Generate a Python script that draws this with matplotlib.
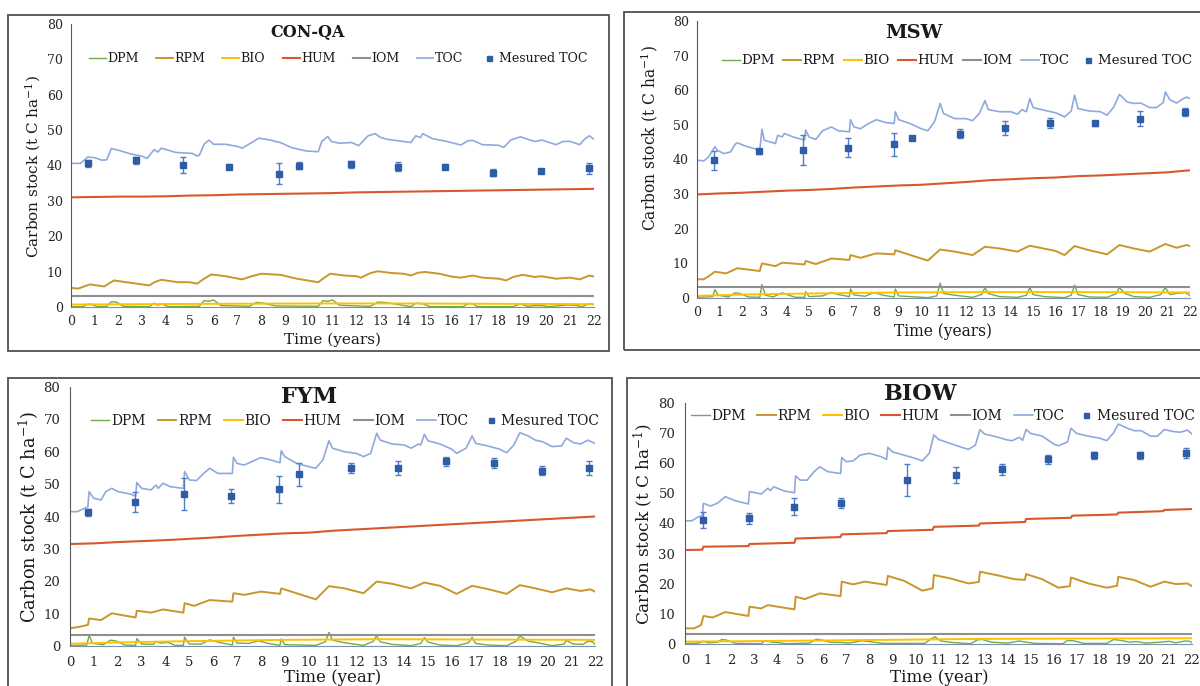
import matplotlib
matplotlib.use('Agg')
import matplotlib.pyplot as plt
from matplotlib.patches import Rectangle

W, H = 1200, 686

C_DPM = '#70ad47'
C_RPM = '#c9962c'
C_BIO = '#ffc000'
C_HUM = '#d9582b'
C_IOM = '#8f8f8f'
C_TOC = '#8eaadc'
C_MEAS = '#2f5ca6'
C_ERR = '#4f7cc4'

YEARS = list(range(23))
XTICKS = list(range(23))
YTICKS = list(range(0, 81, 10))
LABELS = ['DPM', 'RPM', 'BIO', 'HUM', 'IOM', 'TOC', 'Mesured TOC']

# ---------------- CON-QA ----------------
CONQA_TOC_T = [0, 0.4, 0.7, 1.0, 1.3, 1.5, 1.7, 2.0, 2.5, 3.0,
               3.2, 3.5, 3.65, 3.8, 4.4, 5.1, 5.3, 5.4, 5.6, 5.8,
               6.0, 6.5, 7.0, 7.2, 7.6, 7.9, 8.3, 8.8, 9.3, 9.9,
               10.4, 10.55, 10.8, 10.95, 11.3, 11.8, 12.1, 12.5, 12.8, 13.0,
               13.3, 14.3, 14.5, 14.7, 14.8, 15.2, 15.8, 16.4, 16.7, 16.9,
               17.3, 18.0, 18.2, 18.5, 18.9, 19.5, 19.8, 20.4, 20.7, 21.0,
               21.4, 21.6, 21.8, 22.0]
CONQA_TOC = [40.6, 40.6, 42.4, 42.2, 41.5, 41.6, 44.8, 44.3, 43.3, 42.6,
             42.0, 44.5, 43.8, 44.9, 43.7, 43.4, 42.7, 42.9, 46.0, 47.2,
             46.0, 46.0, 45.4, 44.9, 46.5, 47.7, 47.3, 46.5, 45.0, 44.1,
             43.9, 46.8, 48.2, 46.8, 46.3, 46.5, 45.6, 48.4, 49.0, 48.0,
             47.4, 46.5, 48.4, 47.9, 49.0, 47.6, 46.8, 45.8, 47.0, 47.1,
             45.9, 45.7, 45.1, 47.2, 48.1, 46.8, 47.2, 45.9, 46.8, 46.8,
             45.9, 47.4, 48.4, 47.4]
CONQA_RPM_T = [0, 0.3, 0.8, 1.4, 1.8, 3.3, 3.5, 3.8, 4.5, 5.0,
               5.3, 5.6, 5.9, 6.5, 7.2, 7.6, 8.0, 8.8, 9.5, 10.4,
               10.6, 10.9, 11.5, 12.0, 12.2, 12.6, 12.9, 13.5, 14.0, 14.3,
               14.6, 14.9, 15.5, 16.0, 16.4, 16.9, 17.3, 18.0, 18.3, 18.6,
               19.0, 19.5, 19.8, 20.4, 21.0, 21.4, 21.8, 22.0]
CONQA_RPM = [5.4, 5.2, 6.4, 5.8, 7.5, 6.1, 7.0, 7.7, 7.0, 7.0,
             6.6, 8.0, 9.2, 8.7, 7.8, 8.7, 9.4, 9.1, 8.0, 7.0,
             8.0, 9.4, 8.9, 8.7, 8.3, 9.6, 10.1, 9.6, 9.4, 8.9,
             9.7, 9.9, 9.4, 8.6, 8.3, 8.9, 8.3, 8.0, 7.5, 8.5,
             9.1, 8.5, 8.7, 8.0, 8.3, 7.8, 8.9, 8.6]
CONQA_HUM = [31.0, 31.1, 31.2, 31.2, 31.3, 31.5, 31.6, 31.8, 31.9, 32.0, 32.1, 32.2,
             32.4, 32.5, 32.6, 32.7, 32.8, 32.9, 33.0, 33.1, 33.2, 33.3, 33.4]
CONQA_BIO_T = [0, 3, 6, 10, 14, 18, 22]
CONQA_BIO = [0.7, 0.8, 0.9, 1.0, 1.0, 0.9, 0.8]
CONQA_IOM = [3.2, 3.2]
CONQA_DPM_T = [0, 0.5, 0.7, 0.9, 1.1, 1.5, 1.7, 1.9, 2.2, 3.3,
               3.5, 3.65, 3.8, 4.1, 5.4, 5.6, 5.8, 6.0, 6.3, 7.5,
               7.8, 8.1, 8.6, 10.4, 10.6, 10.8, 11.0, 11.3, 12.4, 12.6,
               12.9, 13.2, 14.3, 14.5, 14.8, 15.1, 16.5, 16.7, 16.9, 17.1,
               18.6, 18.9, 19.2, 19.5, 19.8, 20.1, 20.9, 21.2, 21.5, 21.8, 22.0]
CONQA_DPM = [0.1, 0.1, 0.8, 0.7, 0.1, 0.2, 1.5, 1.4, 0.2, 0.1,
             1.1, 0.5, 0.9, 0.1, 0.2, 1.8, 1.6, 2.0, 0.4, 0.2,
             1.3, 1.1, 0.3, 0.2, 1.8, 1.6, 2.0, 0.5, 0.2, 0.2,
             1.4, 1.3, 0.1, 1.1, 0.9, 0.1, 0.1, 1.0, 0.9, 0.1,
             0.1, 0.9, 0.2, 0.4, 0.4, 0.1, 0.6, 0.5, 0.1, 1.0, 0.6]
CONQA_MEAS_T = [0.72, 2.74, 4.73, 6.66, 8.76, 9.6, 11.76, 13.76, 15.75, 17.75, 19.78, 21.78]
CONQA_MEAS = [40.6, 41.5, 40.1, 39.6, 37.7, 39.9, 40.4, 39.7, 39.7, 38.0, 38.5, 39.2]
CONQA_ERR = [0.9, 1.0, 2.3, 0.7, 3.0, 1.0, 1.0, 1.3, 0.7, 1.0, 0.6, 1.6]

# ---------------- MSW ----------------
MSW_TOC_T = [0, 0.3, 0.5, 0.8, 0.9, 1.2, 1.5, 1.7, 1.8, 2.2,
             2.8, 2.9, 3.0, 3.5, 3.6, 3.8, 3.9, 4.3, 4.8, 4.85,
             5.0, 5.3, 5.6, 6.0, 6.3, 6.8, 6.85, 7.0, 7.3, 7.6,
             8.0, 8.4, 8.8, 8.85, 9.0, 9.5, 10.0, 10.3, 10.6, 10.85,
             11.0, 11.5, 12.0, 12.3, 12.6, 12.85, 13.0, 13.5, 14.0, 14.3,
             14.5, 14.7, 14.85, 15.0, 15.5, 16.0, 16.4, 16.7, 16.85, 17.0,
             17.5, 18.0, 18.3, 18.6, 18.85, 19.2, 19.5, 19.8, 20.2, 20.5,
             20.8, 20.9, 21.1, 21.4, 21.7, 21.85, 22.0]
MSW_TOC = [39.8, 39.6, 40.6, 43.7, 42.7, 41.7, 42.2, 44.4, 44.8, 43.8,
           42.7, 48.7, 45.6, 44.6, 47.0, 46.5, 47.5, 46.5, 45.6, 48.5,
           46.5, 45.8, 48.3, 49.4, 48.3, 48.0, 51.5, 49.4, 48.9, 50.2,
           51.5, 50.7, 50.4, 53.8, 51.5, 50.4, 48.9, 48.3, 50.9, 56.2,
           53.3, 51.8, 51.8, 51.2, 53.3, 57.0, 54.4, 53.8, 53.8, 53.1,
           54.4, 53.8, 57.6, 55.0, 54.2, 53.5, 52.3, 54.0, 58.6, 54.7,
           54.0, 53.8, 52.8, 55.2, 58.8, 56.6, 56.2, 56.3, 55.0, 55.0,
           56.4, 59.5, 57.3, 56.3, 57.6, 58.0, 57.6]
MSW_RPM_T = [0, 0.3, 0.5, 0.8, 1.3, 1.8, 2.8, 2.9, 3.5, 3.8,
             4.8, 4.85, 5.3, 6.0, 6.8, 6.85, 7.3, 8.0, 8.8, 8.85,
             10.3, 10.85, 11.5, 12.3, 12.85, 13.5, 14.3, 14.85, 16.0, 16.4,
             16.85, 17.5, 18.3, 18.85, 19.5, 20.2, 20.9, 21.4, 21.85, 22.0]
MSW_RPM = [5.4, 5.4, 6.2, 7.6, 7.1, 8.6, 7.8, 10.0, 9.2, 10.2,
           9.7, 10.7, 9.8, 11.4, 11.0, 12.4, 11.6, 12.9, 12.6, 13.8,
           10.8, 14.0, 13.4, 12.4, 14.8, 14.3, 13.4, 15.1, 13.6, 12.4,
           15.0, 13.8, 12.6, 15.3, 14.3, 13.4, 15.6, 14.5, 15.3, 15.0]
MSW_HUM = [29.9, 30.2, 30.4, 30.7, 31.0, 31.2, 31.5, 31.9, 32.2, 32.5, 32.7, 33.1,
           33.5, 34.0, 34.3, 34.6, 34.8, 35.2, 35.4, 35.7, 36.0, 36.3, 36.9]
MSW_BIO_T = [0, 2, 5, 9, 13, 17, 22]
MSW_BIO = [0.6, 1.0, 1.3, 1.6, 1.7, 1.7, 1.6]
MSW_IOM = [3.2, 3.2]
MSW_DPM_T = [0, 0.7, 0.8, 0.95, 1.4, 1.7, 1.9, 2.3, 2.8, 2.9,
             3.05, 3.4, 3.8, 4.0, 4.4, 4.8, 4.85, 5.0, 5.6, 6.0,
             6.3, 6.8, 6.85, 7.0, 7.5, 7.9, 8.3, 8.8, 8.85, 9.0,
             10.3, 10.7, 10.85, 11.0, 11.5, 12.3, 12.7, 12.85, 13.0, 13.5,
             14.3, 14.7, 14.85, 15.0, 15.5, 16.4, 16.7, 16.85, 17.0, 17.5,
             18.3, 18.7, 18.85, 19.1, 19.5, 20.2, 20.7, 20.9, 21.1, 21.5,
             21.8, 22.0]
MSW_DPM = [0.2, 0.4, 2.4, 0.8, 0.3, 1.5, 1.3, 0.3, 0.2, 3.9,
           0.8, 0.3, 1.5, 1.0, 0.2, 0.2, 1.8, 0.4, 0.6, 1.6,
           1.0, 0.4, 2.6, 0.9, 0.5, 1.6, 0.8, 0.3, 2.6, 0.6,
           0.1, 0.6, 4.3, 1.3, 0.8, 0.2, 1.0, 3.0, 1.3, 0.4,
           0.2, 0.8, 3.0, 1.0, 0.4, 0.1, 0.8, 3.7, 1.0, 0.3,
           0.2, 1.2, 3.0, 1.3, 0.4, 0.2, 1.0, 3.0, 1.0, 1.4,
           1.6, 0.7]
MSW_MEAS_T = [0.74, 2.75, 4.75, 6.76, 8.77, 9.58, 11.74, 13.75, 15.75, 17.76, 19.76, 21.77]
MSW_MEAS = [39.8, 42.4, 42.7, 43.4, 44.4, 46.1, 47.5, 49.2, 50.6, 50.4, 51.8, 53.8]
MSW_ERR = [2.7, 0.7, 4.3, 2.7, 3.3, 0.5, 1.2, 2.0, 1.4, 0.7, 2.2, 1.1]

# ---------------- FYM ----------------
FYM_TOC_T = [0, 0.3, 0.6, 0.75, 0.8, 1.0, 1.3, 1.5, 1.75, 2.0,
             2.5, 2.75, 2.8, 3.0, 3.4, 3.6, 3.7, 3.9, 4.2, 4.75,
             4.8, 5.0, 5.3, 5.6, 5.85, 6.2, 6.8, 6.85, 7.0, 7.3,
             7.6, 8.0, 8.5, 8.8, 8.85, 9.0, 9.5, 10.0, 10.3, 10.6,
             10.85, 11.0, 11.5, 12.0, 12.3, 12.6, 12.85, 13.0, 13.5, 14.0,
             14.3, 14.6, 14.7, 14.85, 15.0, 15.5, 16.0, 16.2, 16.6, 16.85,
             17.0, 17.5, 18.0, 18.3, 18.6, 18.85, 19.2, 19.5, 19.8, 20.2,
             20.6, 20.8, 21.1, 21.4, 21.7, 22.0]
FYM_TOC = [41.5, 41.5, 42.5, 43.0, 47.7, 45.6, 45.1, 47.7, 48.7, 47.7,
           47.0, 46.3, 50.5, 48.7, 48.2, 49.7, 48.7, 50.3, 49.2, 48.7,
           53.9, 51.3, 51.1, 53.3, 54.9, 53.3, 53.3, 58.3, 56.4, 55.9,
           56.9, 58.2, 57.3, 56.6, 60.3, 58.5, 56.4, 55.4, 54.9, 57.5,
           63.4, 61.1, 60.0, 59.5, 58.5, 59.5, 65.7, 63.6, 62.4, 62.1,
           61.1, 62.4, 62.1, 65.4, 63.4, 62.4, 60.8, 59.5, 61.1, 64.9,
           62.6, 61.8, 60.8, 59.7, 62.1, 65.9, 64.9, 63.6, 63.1, 61.6,
           61.8, 64.2, 62.8, 62.4, 63.6, 62.6]
FYM_RPM_T = [0, 0.3, 0.75, 0.8, 1.3, 1.75, 2.75, 2.8, 3.4, 3.9,
             4.75, 4.8, 5.2, 5.85, 6.8, 6.85, 7.3, 8.0, 8.8, 8.85,
             10.3, 10.85, 11.5, 12.3, 12.85, 13.5, 14.3, 14.85, 15.5, 16.2,
             16.85, 17.5, 18.3, 18.85, 19.5, 20.2, 20.8, 21.4, 21.8, 22.0]
FYM_RPM = [5.5, 5.8, 6.5, 8.5, 8.0, 10.1, 8.8, 10.9, 10.3, 11.3,
           10.3, 13.2, 12.4, 14.2, 13.7, 16.3, 15.8, 16.8, 16.1, 17.8,
           14.4, 18.5, 17.8, 16.3, 19.9, 19.2, 17.8, 19.6, 18.6, 16.1,
           18.6, 17.6, 16.1, 18.8, 17.8, 16.6, 17.8, 17.0, 17.5, 16.8]
FYM_HUM = [31.5, 31.7, 32.1, 32.4, 32.7, 33.1, 33.5, 34.0, 34.4, 34.8, 35.0, 35.6,
           36.0, 36.4, 36.8, 37.2, 37.6, 38.0, 38.4, 38.8, 39.2, 39.6, 40.0]
FYM_BIO_T = [0, 2, 5, 9, 13, 17, 22]
FYM_BIO = [0.7, 1.1, 1.5, 1.9, 2.1, 2.0, 1.9]
FYM_IOM = [3.4, 3.4]
FYM_DPM_T = [0, 0.7, 0.8, 0.95, 1.4, 1.7, 1.9, 2.3, 2.75, 2.8,
             3.0, 3.5, 3.6, 3.8, 4.1, 4.4, 4.75, 4.8, 5.0, 5.5,
             5.85, 6.2, 6.8, 6.85, 7.0, 7.5, 7.9, 8.3, 8.8, 8.85,
             9.0, 10.3, 10.7, 10.85, 11.0, 11.5, 12.3, 12.7, 12.85, 13.0,
             13.5, 14.3, 14.7, 14.85, 15.0, 15.5, 16.2, 16.7, 16.85, 17.0,
             17.5, 18.3, 18.7, 18.85, 19.2, 19.6, 20.2, 20.7, 20.8, 21.1,
             21.5, 21.7, 21.9, 22.0]
FYM_DPM = [0.1, 0.3, 3.2, 0.8, 0.4, 1.8, 1.6, 0.3, 0.2, 2.3,
           0.6, 0.5, 1.4, 0.9, 1.1, 0.2, 0.2, 2.7, 0.6, 0.6,
           1.9, 1.2, 0.3, 2.7, 0.9, 0.8, 1.6, 0.8, 0.2, 2.2,
           0.4, 0.2, 1.3, 4.2, 1.8, 1.0, 0.2, 1.4, 3.2, 1.3,
           0.5, 0.1, 0.8, 2.6, 1.2, 0.3, 0.1, 1.0, 2.7, 0.8,
           0.3, 0.1, 1.5, 3.1, 1.5, 1.0, 0.1, 0.6, 1.7, 0.6,
           0.5, 1.5, 1.3, 0.5]
FYM_MEAS_T = [0.74, 2.74, 4.76, 6.76, 8.76, 9.59, 11.76, 13.76, 15.76, 17.76, 19.76, 21.76]
FYM_MEAS = [41.3, 44.4, 47.0, 46.3, 48.4, 53.0, 54.9, 54.9, 57.0, 56.6, 54.1, 54.9]
FYM_ERR = [1.0, 3.1, 4.9, 2.1, 4.1, 3.6, 1.6, 2.1, 1.4, 1.6, 1.4, 2.1]

# ---------------- BIOW ----------------
BIOW_TOC_T = [0, 0.3, 0.6, 0.75, 0.8, 1.1, 1.4, 1.75, 2.2, 2.75,
              2.8, 3.3, 3.6, 3.7, 3.85, 4.3, 4.75, 4.8, 5.0, 5.3,
              5.6, 5.85, 6.2, 6.75, 6.8, 7.0, 7.3, 7.6, 8.0, 8.5,
              8.75, 8.8, 9.0, 9.5, 10.0, 10.3, 10.6, 10.8, 11.0, 11.5,
              12.0, 12.3, 12.6, 12.8, 13.0, 13.5, 14.0, 14.2, 14.5, 14.65,
              14.8, 15.0, 15.5, 16.0, 16.2, 16.6, 16.75, 17.0, 17.5, 18.0,
              18.3, 18.6, 18.8, 19.2, 19.5, 19.8, 20.2, 20.5, 20.8, 21.2,
              21.5, 21.8, 22.0]
BIOW_TOC = [40.9, 40.9, 42.3, 42.5, 46.7, 45.8, 46.7, 48.9, 47.5, 46.5,
            50.6, 49.8, 51.7, 50.9, 52.2, 50.8, 50.2, 55.8, 54.4, 54.4,
            57.2, 58.8, 57.2, 56.6, 61.9, 60.5, 60.8, 62.7, 63.3, 62.2,
            61.3, 65.3, 63.8, 62.7, 61.6, 60.8, 63.3, 69.4, 67.9, 66.6,
            65.3, 64.6, 66.0, 71.2, 69.7, 68.8, 67.7, 67.5, 68.6, 67.6,
            71.2, 69.9, 69.0, 66.4, 65.8, 67.1, 71.6, 69.9, 69.0, 68.3,
            67.5, 70.1, 73.0, 71.6, 70.8, 70.8, 69.0, 69.0, 71.2, 70.5,
            70.3, 71.0, 69.7]
BIOW_RPM_T = [0, 0.4, 0.7, 0.8, 1.2, 1.75, 2.75, 2.8, 3.3, 3.6,
              4.75, 4.8, 5.2, 5.85, 6.75, 6.8, 7.3, 7.8, 8.75, 8.8,
              9.5, 10.3, 10.75, 10.8, 11.5, 12.3, 12.75, 12.8, 13.5, 14.3,
              14.75, 14.8, 15.5, 16.2, 16.7, 16.75, 17.5, 18.3, 18.75, 18.8,
              19.5, 20.2, 20.8, 21.3, 21.8, 22.0]
BIOW_RPM = [5.2, 5.2, 6.3, 9.3, 8.8, 10.6, 9.3, 12.4, 11.8, 12.9,
            11.5, 15.7, 14.9, 16.8, 15.9, 20.7, 19.8, 20.7, 19.6, 22.6,
            21.0, 17.7, 18.5, 22.9, 21.8, 20.1, 20.6, 24.0, 22.9, 21.5,
            21.3, 23.2, 21.5, 18.7, 19.2, 22.1, 20.1, 18.7, 19.3, 22.3,
            21.2, 19.0, 20.7, 19.9, 20.1, 19.2]
BIOW_HUM_T = [0, 0.75, 0.8, 2.75, 2.8, 4.75, 4.8, 6.75, 6.8, 8.75, 8.8, 10.75,
              10.8, 12.75, 12.8, 14.75, 14.8, 16.75, 16.8, 18.75, 18.8, 20.75, 20.8, 22]
BIOW_HUM = [31.2, 31.3, 32.3, 32.5, 33.2, 33.6, 35.0, 35.5, 36.4, 36.8, 37.5, 37.9,
            38.9, 39.3, 40.0, 40.5, 41.5, 41.9, 42.6, 43.0, 43.6, 44.1, 44.5, 44.8]
BIOW_BIO_T = [0, 2, 5, 9, 13, 17, 22]
BIOW_BIO = [0.8, 0.9, 1.1, 1.4, 1.7, 1.8, 1.9]
BIOW_IOM = [3.2, 3.2]
BIOW_DPM_T = [0, 0.6, 0.8, 1.0, 1.4, 1.6, 1.8, 2.2, 3.3, 3.5,
              3.7, 4.0, 4.4, 5.4, 5.7, 5.9, 6.3, 6.8, 7.1, 7.7,
              8.0, 8.6, 10.4, 10.7, 10.85, 11.1, 11.6, 12.4, 12.7, 12.9,
              13.3, 14.0, 14.5, 14.8, 15.2, 16.4, 16.6, 16.9, 17.3, 18.3,
              18.6, 18.9, 19.3, 19.6, 20.0, 20.6, 21.0, 21.3, 21.7, 21.9, 22.0]
BIOW_DPM = [0.1, 0.3, 0.9, 0.4, 0.6, 1.5, 1.3, 0.2, 0.1, 1.2,
            0.7, 0.5, 0.1, 0.3, 1.6, 1.4, 0.6, 0.5, 0.3, 1.1,
            0.8, 0.2, 0.2, 1.8, 2.4, 1.0, 0.5, 0.1, 1.4, 1.5,
            0.6, 0.3, 1.0, 0.6, 0.2, 0.1, 1.2, 1.0, 0.2, 0.2,
            1.5, 1.2, 0.6, 0.8, 0.3, 0.6, 0.9, 0.4, 1.0, 0.9, 0.4]
BIOW_MEAS_T = [0.76, 2.76, 4.75, 6.76, 9.65, 11.76, 13.74, 15.73, 17.74, 19.74, 21.73]
BIOW_MEAS = [41.2, 41.7, 45.6, 46.9, 54.4, 56.1, 58.0, 61.3, 62.7, 62.7, 63.3]
BIOW_ERR = [2.6, 1.7, 2.9, 1.7, 5.4, 2.5, 1.8, 1.5, 1.2, 1.2, 1.7]

plt.rcParams['font.family'] = ['DejaVu Serif']
plt.rcParams['mathtext.fontset'] = 'dejavuserif'
plt.rcParams['text.color'] = '#1a1a1a'

fig = plt.figure(figsize=(W / 100, H / 100), dpi=100)


def fx(px):
    return px / W


def fy(py):
    return 1 - py / H


def panel(box, axbox, title, title_xy, title_size, leg_xy, leg_size, leg_colsp, ylab_xy, ylab_size,
          xlabel, xlab_xy, xlab_size, tick_size, tick_pad,
          dpm, rpm, bio, hum, iom, toc, meas):
    # frame around the panel (each chart was pasted in as its own picture)
    fig.add_artist(Rectangle((fx(box[0]), fy(box[3])), fx(box[2] - box[0]), (box[3] - box[1]) / H,
                             transform=fig.transFigure, fill=False, ec='#505050', lw=1.3))
    ax = fig.add_axes([fx(axbox[0]), fy(axbox[3]), fx(axbox[2] - axbox[0]), (axbox[3] - axbox[1]) / H])
    ax.plot(dpm[0], dpm[1], color=C_DPM, lw=1.0, label=LABELS[0])
    ax.plot(rpm[0], rpm[1], color=C_RPM, lw=1.4, label=LABELS[1])
    ax.plot(bio[0], bio[1], color=C_BIO, lw=1.4, label=LABELS[2])
    ax.plot(hum[0], hum[1], color=C_HUM, lw=1.5, label=LABELS[3])
    ax.plot([0, 22], iom, color=C_IOM, lw=1.5, label=LABELS[4])
    ax.plot(toc[0], toc[1], color=C_TOC, lw=1.2, label=LABELS[5])
    ax.errorbar(meas[0], meas[1], yerr=meas[2], fmt='none', ecolor=C_ERR, elinewidth=1.0,
                capsize=2, capthick=1.0)
    ax.plot(meas[0], meas[1], 's', color=C_MEAS, ms=4, label=LABELS[6])

    ax.set_xlim(0, 22)
    ax.set_ylim(0, 80)
    ax.set_xticks(XTICKS)
    ax.set_yticks(YTICKS)
    ax.tick_params(length=0, labelsize=tick_size, pad=tick_pad, colors='#262626')
    for s in ('top', 'right'):
        ax.spines[s].set_visible(False)
    ax.spines['left'].set_color('#595959')
    ax.spines['bottom'].set_color('#7d8fb0')
    ax.patch.set_alpha(0)

    ax.legend(loc='center', bbox_to_anchor=(fx(leg_xy[0]), fy(leg_xy[1])), bbox_transform=fig.transFigure,
              ncol=7, frameon=False, fontsize=leg_size, handlelength=1.35, handletextpad=0.1,
              columnspacing=leg_colsp, borderaxespad=0, borderpad=0, markerscale=0.9)
    fig.text(fx(title_xy[0]), fy(title_xy[1]), title, ha='center', va='center',
             fontsize=title_size, fontweight='bold')
    fig.text(fx(ylab_xy[0]), fy(ylab_xy[1]), 'Carbon stock (t C ha$^{-1}$)', rotation=90,
             ha='center', va='center', fontsize=ylab_size)
    fig.text(fx(xlab_xy[0]), fy(xlab_xy[1]), xlabel, ha='center', va='center', fontsize=xlab_size)
    return ax


panel((8, 15, 609, 351), (71, 24, 594, 307), 'CON-QA', (308, 33), 11.5, (338, 59), 9, 1.4,
      (33, 167), 11, 'Time (years)', (332, 340), 11, 9, 6,
      (CONQA_DPM_T, CONQA_DPM), (CONQA_RPM_T, CONQA_RPM), (CONQA_BIO_T, CONQA_BIO),
      (YEARS, CONQA_HUM), CONQA_IOM, (CONQA_TOC_T, CONQA_TOC),
      (CONQA_MEAS_T, CONQA_MEAS, CONQA_ERR))

panel((624, 12, 1215, 350), (697, 21, 1190, 298), 'MSW', (914, 33), 14, (957, 61), 9.6, 0.65,
      (649, 138), 11.2, 'Time (years)', (943, 332), 11.2, 9, 6,
      (MSW_DPM_T, MSW_DPM), (MSW_RPM_T, MSW_RPM), (MSW_BIO_T, MSW_BIO),
      (YEARS, MSW_HUM), MSW_IOM, (MSW_TOC_T, MSW_TOC),
      (MSW_MEAS_T, MSW_MEAS, MSW_ERR))

panel((8, 378, 612, 700), (70, 387, 595, 646), 'FYM', (309, 397), 16, (345, 421), 10, 0.9,
      (29, 517), 12.8, 'Time (year)', (333, 678), 12, 9.5, 7,
      (FYM_DPM_T, FYM_DPM), (FYM_RPM_T, FYM_RPM), (FYM_BIO_T, FYM_BIO),
      (YEARS, FYM_HUM), FYM_IOM, (FYM_TOC_T, FYM_TOC),
      (FYM_MEAS_T, FYM_MEAS, FYM_ERR))

panel((627, 378, 1215, 700), (685, 403, 1192, 644), 'BIOW', (921, 394), 16, (943, 416), 10, 0.85,
      (643, 524), 12.2, 'Time (year)', (939, 678), 12.2, 9.5, 7,
      (BIOW_DPM_T, BIOW_DPM), (BIOW_RPM_T, BIOW_RPM), (BIOW_BIO_T, BIOW_BIO),
      (BIOW_HUM_T, BIOW_HUM), BIOW_IOM, (BIOW_TOC_T, BIOW_TOC),
      (BIOW_MEAS_T, BIOW_MEAS, BIOW_ERR))

fig.savefig('out.png', dpi=100)
